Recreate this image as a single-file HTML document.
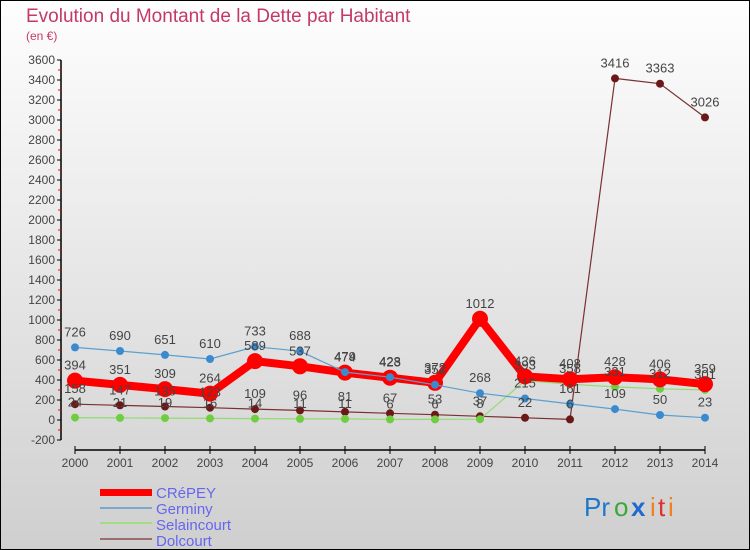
<!DOCTYPE html>
<html><head><meta charset="utf-8"><style>
body{margin:0;}
#wrap{width:750px;height:550px;position:relative;overflow:hidden;}
svg text{font-family:"Liberation Sans","DejaVu Sans",sans-serif;}
</style></head><body>
<div id="wrap">
<svg id="svg" width="750" height="550" xmlns="http://www.w3.org/2000/svg">
<defs><linearGradient id="bg" x1="0" y1="0" x2="0" y2="1"><stop offset="0" stop-color="#fefefe"/><stop offset="1" stop-color="#cfcfcf"/></linearGradient></defs>
<rect x="0.5" y="0.5" width="749" height="549" fill="url(#bg)" stroke="#000"/>
<text x="26" y="22" font-size="19" fill="#c4386a">Evolution du Montant de la Dette par Habitant</text>
<text x="26" y="40" font-size="12" fill="#c4386a">(en €)</text>
<g id="axes"></g><g id="series"></g><g id="labels"></g>
<g>
<rect x="100" y="489" width="52" height="7" fill="#ff0000"/>
<text x="156" y="498" font-size="15" fill="#6666ee">CRéPEY</text>
<rect x="100" y="507" width="52" height="2" fill="#7aa8cc"/>
<text x="156" y="514" font-size="15" fill="#6666ee">Germiny</text>
<rect x="100" y="522" width="52" height="2" fill="#a3dc86"/>
<text x="156" y="530" font-size="15" fill="#6666ee">Selaincourt</text>
<rect x="100" y="538" width="52" height="2" fill="#9a6e6e"/>
<text x="156" y="546" font-size="15" fill="#6666ee">Dolcourt</text>
</g>
<g font-size="26">
<text x="584" y="516" fill="#1e78c8">Pr</text><text x="614" y="516" fill="#3aa83a">o</text><text x="631" y="516" fill="#1e6ad0" font-weight="bold">x</text><text x="650" y="516" fill="#f08020">i</text><text x="658" y="516" fill="#e03030">t</text><text x="668" y="516" fill="#f08020">i</text>
</g>
</svg></div>
<script>
const years=["2000","2001","2002","2003","2004","2005","2006","2007","2008","2009","2010","2011","2012","2013","2014"];
const yTicks=[-200,0,200,400,600,800,1000,1200,1400,1600,1800,2000,2200,2400,2600,2800,3000,3200,3400,3600];
const crepey=[394,351,309,264,589,537,474,423,372,1012,436,408,428,406,359];
const germiny=[726,690,651,610,733,688,479,428,352,268,215,161,109,50,23];
const selaincourt=[24,21,19,16,14,11,11,6,6,8,393,358,331,312,301];
const dolcourt=[158,147,135,123,109,96,81,67,53,37,22,6,3416,3363,3026];
const NS="http://www.w3.org/2000/svg";
function xS(i){return 75+i*45;}
function yS(v){return 420-v*0.1;}
function mk(tag,attrs,parent){const e=document.createElementNS(NS,tag);for(const k in attrs)e.setAttribute(k,attrs[k]);parent.appendChild(e);return e;}
const axes=document.getElementById('axes'),ser=document.getElementById('series'),lab=document.getElementById('labels');
let yax=mk('line',{x1:61,y1:yS(3600),x2:61,y2:yS(-200),stroke:'#000','stroke-width':1.5},axes);


yTicks.forEach(v=>{
 mk('line',{x1:57,y1:yS(v),x2:61,y2:yS(v),stroke:'#000'},axes);
 if(v<3600) mk('line',{x1:58,y1:yS(v+100),x2:61,y2:yS(v+100),stroke:'#f00'},axes);
 const t=mk('text',{x:55,y:yS(v)+4,'font-size':12,fill:'#444','text-anchor':'end'},axes);
 t.textContent=v;
 
 
});
let xax=mk('line',{x1:xS(0),y1:450,x2:xS(years.length-1),y2:450,stroke:'#000','stroke-width':1.5},axes);


years.forEach((y,i)=>{
 mk('line',{x1:xS(i),y1:446,x2:xS(i),y2:454,stroke:'#000'},axes);
 const t=mk('text',{x:xS(i),y:467,'font-size':12,fill:'#444','text-anchor':'middle'},axes);
 t.textContent=y;
 
 
});
function draw(name,data,color,w,r,dot){
 const g=mk('g',{},ser);
 
 
 mk('polyline',{points:data.map((v,i)=>xS(i)+','+yS(v)).join(' '),fill:'none',stroke:color,'stroke-width':w,'stroke-linejoin':'round'},g);
 data.forEach((v,i)=>{
  const c=mk('circle',{cx:xS(i),cy:yS(v),r:r,fill:dot},g);
  
  
  const t=mk('text',{x:xS(i),y:yS(v)-11,'font-size':13,fill:'#444','text-anchor':'middle'},lab);
  t.textContent=v;
  
  
 });
}
draw('dolcourt',dolcourt,'#7a3030',1.2,4,'#6a1818');
draw('selaincourt',selaincourt,'#90dc70',1.2,4,'#70cc40');
draw('crepey',crepey,'#ff0000',8,8,'#ff0000');
draw('germiny',germiny,'#5aa0d0',1.2,4,'#3a8ad0');
</script>
</body></html>
